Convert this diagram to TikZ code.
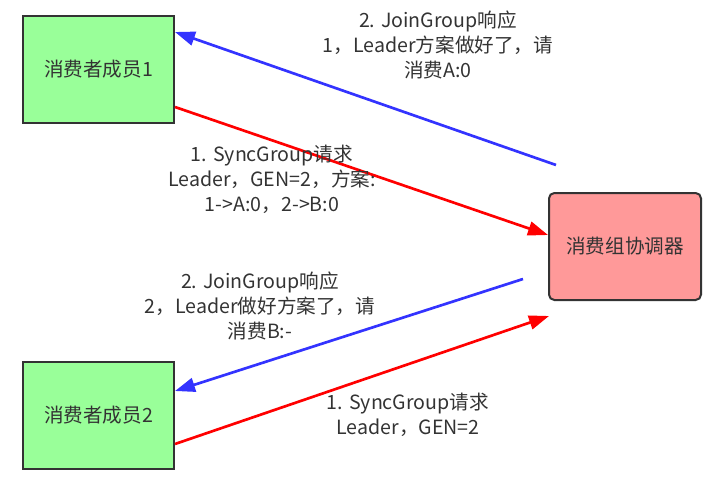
\documentclass[tikz,border=0pt]{standalone}
\usepackage{fontspec}
\setmainfont{Noto Sans CJK SC}
\usetikzlibrary{arrows.meta,calc}
\definecolor{boxgreen}{HTML}{99FF99}
\definecolor{boxred}{HTML}{FF9999}
\definecolor{edgegray}{HTML}{333333}
\definecolor{txtgray}{HTML}{333333}
\definecolor{arrblue}{HTML}{3333FF}
\definecolor{arrred}{HTML}{FF0000}
\tikzset{
  member/.style={draw=edgegray, line width=1.5pt, fill=boxgreen, minimum width=113.25pt, minimum height=80.25pt, inner sep=0pt, text=txtgray, font=\fontsize{14.7}{18.75}\selectfont},
  coordbox/.style={draw=edgegray, line width=1.5pt, fill=boxred, rounded corners=4pt, minimum width=114pt, minimum height=80.25pt, inner sep=0pt, text=txtgray, font=\fontsize{14.7}{18.75}\selectfont},
  lbl/.style={align=center, text=txtgray, inner sep=0pt, font=\fontsize{14.7}{18.75}\selectfont},
  bluearr/.style={draw=arrblue, line width=2pt, -{Triangle[length=15pt,width=10.5pt]}},
  redarr/.style={draw=arrred, line width=2pt, -{Triangle[length=15pt,width=10.5pt]}}
}
\begin{document}
\begin{tikzpicture}[x=0.75pt,y=-0.75pt]
\useasboundingbox (0,0) rectangle (714,478);
\node[member] (m1) at (98.5,69.5) {消费者成员1};
\node[member] (m2) at (98.5,415.5) {消费者成员2};
\node[coordbox] (c) at (625,246.5) {消费组协调器};

\coordinate (b1s) at (556,165);
\coordinate (b2s) at (523,279);
\coordinate (r2e) at (549,316);

\draw[bluearr] (b1s) -- ($(m1.north east)+(0,17)$);
\draw[redarr] ($(m1.south east)+(0,-17)$) -- ($(c.west)+(0,-11.5)$);
\draw[bluearr] (b2s) -- ($(m2.north east)+(0,30)$);
\draw[redarr] ($(m2.south east)+(0,-26)$) -- (r2e);

\node[lbl] (t1) at (438,45) {2. JoinGroup响应\\1，Leader方案做好了，请\\消费A:0};
\node[lbl] (t2) at (272,179) {1. SyncGroup请求\\Leader，GEN=2，方案:\\1->A:0，2->B:0};
\node[lbl] (t3) at (260,306) {2. JoinGroup响应\\2，Leader做好方案了，请\\消费B:-};
\node[lbl] (t4) at (408,415) {1. SyncGroup请求\\Leader，GEN=2};
\end{tikzpicture}
\end{document}
